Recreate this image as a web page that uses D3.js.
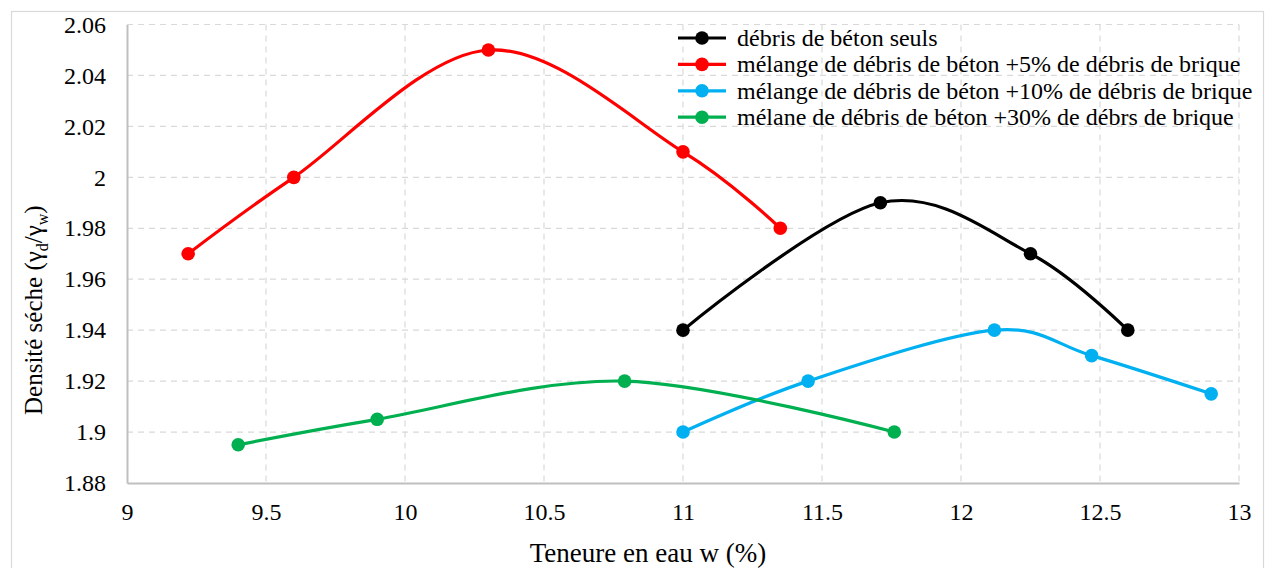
<!DOCTYPE html>
<html>
<head>
<meta charset="utf-8">
<script src="https://cdn.jsdelivr.net/npm/d3@7"></script>
<style>
  html, body { margin: 0; padding: 0; background: #fff; }
  svg, svg text { font-family: "Liberation Serif", "Times New Roman", Tinos, "DejaVu Serif", serif; }
  svg { display: block; }
</style>
</head>
<body>
<svg id="chart" width="1269" height="568"></svg>
<script>
// Water content w (%) and dry density for each mix
const seriesNames = [
  "débris de béton seuls",
  "mélange de débris de béton +5% de débris de brique",
  "mélange de débris de béton +10% de débris de brique",
  "mélane de débris de béton +30% de débrs de brique"
];
const seriesColors = ["#000000", "#ff0000", "#00b0f0", "#00b050"];

const betonW = [11.0, 11.71, 12.25, 12.6];
const betonD = [1.94, 1.99, 1.97, 1.94];

const brique5W = [9.22, 9.6, 10.3, 11.0, 11.35];
const brique5D = [1.97, 2.0, 2.05, 2.01, 1.98];

const brique10W = [11.0, 11.45, 12.12, 12.47, 12.9];
const brique10D = [1.90, 1.92, 1.94, 1.93, 1.915];

const brique30W = [9.4, 9.9, 10.79, 11.76];
const brique30D = [1.895, 1.905, 1.92, 1.90];

const xTicks = [9, 9.5, 10, 10.5, 11, 11.5, 12, 12.5, 13];
const yTicks = [1.88, 1.90, 1.92, 1.94, 1.96, 1.98, 2.0, 2.02, 2.04, 2.06];

const series = [
  { w: betonW, d: betonD },
  { w: brique5W, d: brique5D },
  { w: brique10W, d: brique10D },
  { w: brique30W, d: brique30D }
].map((s, i) => ({
  name: seriesNames[i],
  color: seriesColors[i],
  points: s.w.map((w, j) => ({ w: w, d: s.d[j] }))
}));

const svg = d3.select("#chart");
const plotLeft = 127, plotRight = 1239, plotTop = 24.5, plotBottom = 483;

const x = d3.scaleLinear().domain([9, 13]).range([plotLeft, plotRight]);
const y = d3.scaleLinear().domain([1.88, 2.06]).range([plotBottom, plotTop]);

// outer frame
svg.append("rect")
  .attr("x", 11.5).attr("y", 11.5)
  .attr("width", 1252).attr("height", 570)
  .attr("fill", "#fff").attr("stroke", "#d9d9d9").attr("stroke-width", 1.2);

// dashed grid
const grid = svg.append("g");
grid.selectAll("line.h").data(yTicks.filter(t => t > 1.881)).join("line")
  .attr("x1", plotLeft).attr("x2", plotRight)
  .attr("y1", d => y(d)).attr("y2", d => y(d))
  .attr("stroke", "#d9d9d9").attr("stroke-width", 1.2).attr("stroke-dasharray", "6,5");
grid.selectAll("line.v").data(xTicks.filter(t => t > 9.001)).join("line")
  .attr("x1", d => x(d)).attr("x2", d => x(d))
  .attr("y1", plotTop).attr("y2", plotBottom)
  .attr("stroke", "#d9d9d9").attr("stroke-width", 1.2).attr("stroke-dasharray", "6,5");

// axes
const xAxis = svg.append("g").attr("transform", `translate(0,${plotBottom})`)
  .call(d3.axisBottom(x).tickValues(xTicks).tickFormat(d3.format("~g")).tickSize(0).tickPadding(20));
const yAxis = svg.append("g").attr("transform", `translate(${plotLeft},0)`)
  .call(d3.axisLeft(y).tickValues(yTicks).tickFormat(d3.format("~g")).tickSize(0).tickPadding(21));
[xAxis, yAxis].forEach(a => {
  a.attr("font-family", null);
  a.select(".domain").attr("stroke", "#bfbfbf").attr("stroke-width", 2);
  a.selectAll("text").attr("font-size", 24).attr("fill", "#000");
});

// axis titles
svg.append("text")
  .attr("x", 648).attr("y", 562)
  .attr("text-anchor", "middle").attr("font-size", 27)
  .text("Teneure en eau w (%)");

const yt = svg.append("text")
  .attr("transform", "translate(42,415) rotate(-90)")
  .attr("text-anchor", "start").attr("font-size", 25);
yt.append("tspan").text("Densité séche (γ");
yt.append("tspan").attr("font-size", 16).attr("dy", 6).text("d");
yt.append("tspan").attr("dy", -6).text("/γ");
yt.append("tspan").attr("font-size", 16).attr("dy", 6).text("w");
yt.append("tspan").attr("dy", -6).text(")");

// curves
const line = d3.line().x(p => x(p.w)).y(p => y(p.d)).curve(d3.curveCardinal.tension(0));
const plot = svg.append("g");
series.forEach(s => {
  plot.append("path").datum(s.points)
    .attr("d", line).attr("fill", "none")
    .attr("stroke", s.color).attr("stroke-width", 3.2);
  plot.selectAll(null).data(s.points).join("circle")
    .attr("cx", p => x(p.w)).attr("cy", p => y(p.d)).attr("r", 6.8)
    .attr("fill", s.color);
});

// legend
const legend = svg.append("g").attr("transform", "translate(678,38)");
series.forEach((s, i) => {
  const g = legend.append("g").attr("transform", `translate(0,${i * 26.4})`);
  g.append("rect").attr("x", 0).attr("y", -3).attr("width", 47).attr("height", 6).attr("fill", "#fff");
  g.append("line").attr("x1", 0).attr("x2", 48).attr("y1", 0).attr("y2", 0)
    .attr("stroke", s.color).attr("stroke-width", 3.2);
  g.append("circle").attr("cx", 24).attr("cy", 0).attr("r", 6.8).attr("fill", s.color);
  g.append("text").attr("x", 59).attr("y", 0).attr("dy", "0.33em")
    .attr("font-size", 24).text(s.name);
});
</script>
</body>
</html>
